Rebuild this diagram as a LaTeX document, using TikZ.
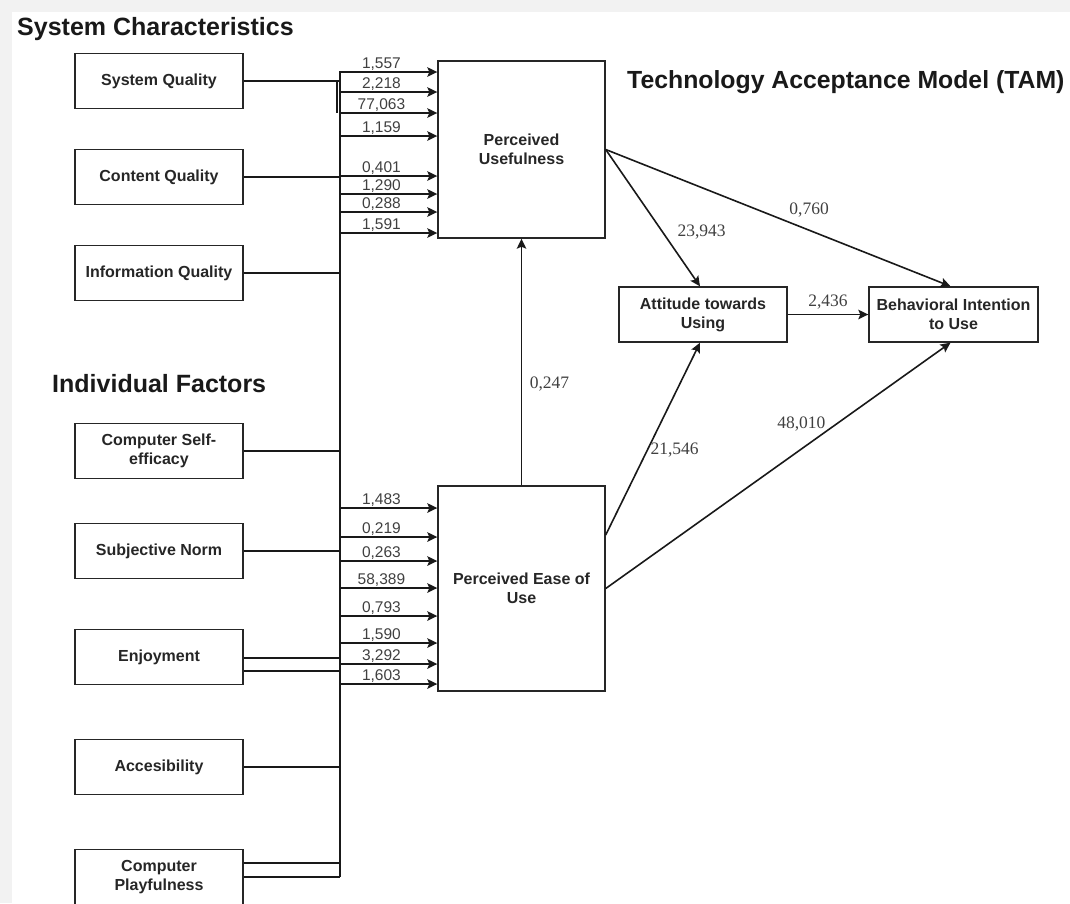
\documentclass[tikz,border=0pt]{standalone}
\usepackage{fontspec}
\setmainfont{Liberation Serif}
\setsansfont{Liberation Sans}
\usetikzlibrary{arrows.meta}
\tikzstyle{factor} = [rectangle, minimum width=168pt, minimum height=55pt, align=center, draw=black!85, line width=1.4pt, text=black!85, font=\sffamily\bfseries\fontsize{16}{19}\selectfont]
\tikzstyle{construct} = [rectangle, minimum width=167pt, align=center, draw=black!85, line width=1.4pt, text=black!85, font=\sffamily\bfseries\fontsize{16}{19}\selectfont]
\tikzstyle{heading} = [inner sep=0pt, text=black!90, font=\sffamily\bfseries\fontsize{25}{30}\selectfont]
\tikzstyle{link} = [line width=1.6pt, draw=black!90]
\tikzstyle{arrow} = [link, ->, >={Stealth[length=10pt,width=9.5pt,inset=2pt]}]
\tikzstyle{coef} = [pos=0.57, above, inner sep=0.5pt, text=black!75, font=\sffamily\fontsize{15.5}{18}\selectfont]
\tikzstyle{pathcoef} = [inner sep=0.5pt, text=black!75, font=\fontsize{17.5}{20}\selectfont]

\begin{document}
\begin{tikzpicture}[x=1pt, y=1pt, node distance=96pt]

    \useasboundingbox (0,0) rectangle (1070,-903);
    \fill[black!5] (0,0) rectangle (1070,-12);
    \fill[black!5] (0,0) rectangle (12,-903);

    % Headings
    \node (hsys) [heading, anchor=base west] at (17,-35) {System Characteristics};
    \node (hind) [heading, anchor=base west] at (52,-392) {Individual Factors};
    \node (htam) [heading, anchor=base west, font=\sffamily\bfseries\fontsize{24.8}{30}\selectfont] at (627,-88) {Technology Acceptance Model (TAM)};

    % Nodes
    \node (sysq) [factor] at (159,-81) {System Quality};
    \node (contq) [factor, below of=sysq] {Content Quality};
    \node (infoq) [factor, below of=contq] {Information Quality};
    \node (selfeff) [factor, below of=infoq, yshift=-82pt] {Computer Self-\\efficacy};
    \node (subnorm) [factor, below of=selfeff, yshift=-4pt] {Subjective Norm};
    \node (enjoy) [factor, below of=subnorm, yshift=-10pt] {Enjoyment};
    \node (access) [factor, below of=enjoy, yshift=-14pt] {Accesibility};
    \node (playful) [factor, below of=access, yshift=-14pt] {Computer\\Playfulness};

    \node (PU) [construct, minimum height=177pt] at (521.5,-149.5) {Perceived\\Usefulness};
    \node (PEU) [construct, minimum height=205pt] at (521.5,-588.5) {Perceived Ease of\\Use};
    \node (ATT) [factor] at (703,-314.5) {Attitude towards\\Using};
    \node (BI) [factor, minimum width=169pt] at (953.5,-314.5) {Behavioral Intention\\to Use};

    % Bus
    \coordinate (bustop) at (340,-72);
    \coordinate (busbot) at (340,-877);
    \draw [link] (bustop) -- (busbot);

    \draw [link] (sysq.east) -- (sysq.east -| bustop);
    \draw [link] ([xshift=93.4pt]sysq.east) -- ++(0,-32);
    \draw [link] (contq.east) -- (contq.east -| bustop);
    \draw [link] (infoq.east) -- (infoq.east -| bustop);
    \draw [link] (selfeff.east) -- (selfeff.east -| bustop);
    \draw [link] (subnorm.east) -- (subnorm.east -| bustop);
    \draw [link] ([yshift=-1pt]enjoy.east) -- ++(96.4,0);
    \draw [link] ([yshift=-14pt]enjoy.east) -- ++(96.4,0);
    \draw [link] (access.east) -- (access.east -| bustop);
    \draw [link] ([yshift=14pt]playful.east) -- ++(96.4,0);
    \draw [link] (playful.east) -- (playful.east -| bustop);

    % Arrows into PU
    \draw [arrow, <-] ([yshift=77.5pt]PU.west) -- node[coef] {1,557} ++(-98,0);
    \draw [arrow, <-] ([yshift=57.5pt]PU.west) -- node[coef] {2,218} ++(-98,0);
    \draw [arrow, <-] ([yshift=36.5pt]PU.west) -- node[coef] {77,063} ++(-98,0);
    \draw [arrow, <-] ([yshift=13.5pt]PU.west) -- node[coef] {1,159} ++(-98,0);
    \draw [arrow, <-] ([yshift=-26.5pt]PU.west) -- node[coef] {0,401} ++(-98,0);
    \draw [arrow, <-] ([yshift=-44.5pt]PU.west) -- node[coef] {1,290} ++(-98,0);
    \draw [arrow, <-] ([yshift=-62.5pt]PU.west) -- node[coef] {0,288} ++(-98,0);
    \draw [arrow, <-] ([yshift=-83.5pt]PU.west) -- node[coef] {1,591} ++(-98,0);

    % Arrows into PEU
    \draw [arrow, <-] ([yshift=80.5pt]PEU.west) -- node[coef] {1,483} ++(-98,0);
    \draw [arrow, <-] ([yshift=51.5pt]PEU.west) -- node[coef] {0,219} ++(-98,0);
    \draw [arrow, <-] ([yshift=27.5pt]PEU.west) -- node[coef] {0,263} ++(-98,0);
    \draw [arrow, <-] ([yshift=0.5pt]PEU.west) -- node[coef] {58,389} ++(-98,0);
    \draw [arrow, <-] ([yshift=-27.5pt]PEU.west) -- node[coef] {0,793} ++(-98,0);
    \draw [arrow, <-] ([yshift=-54.5pt]PEU.west) -- node[coef] {1,590} ++(-98,0);
    \draw [arrow, <-] ([yshift=-75.5pt]PEU.west) -- node[coef] {3,292} ++(-98,0);
    \draw [arrow, <-] ([yshift=-95.5pt]PEU.west) -- node[coef] {1,603} ++(-98,0);

    % TAM paths
    \draw [arrow] (PEU.north) -- node[pathcoef, pos=0.41, right=7pt] {0,247} (PU.south);
    \draw [arrow] (PU.east) -- node[pathcoef, pos=0.6, right=14pt] {23,943} ([xshift=-3pt]ATT.north);
    \draw [arrow] (PU.east) -- node[pathcoef, pos=0.59, above=12pt] {0,760} ([xshift=-3pt]BI.north);
    \draw [arrow] (ATT.east) -- node[pathcoef, above=4pt] {2,436} (BI.west);
    \draw [arrow] ([yshift=53.5pt]PEU.east) -- node[pathcoef, pos=0.44, right=2pt] {21,546} ([xshift=-3pt]ATT.south);
    \draw [arrow] (PEU.east) -- node[pathcoef, pos=0.67, left=10pt] {48,010} ([xshift=-3pt]BI.south);

\end{tikzpicture}
\end{document}
